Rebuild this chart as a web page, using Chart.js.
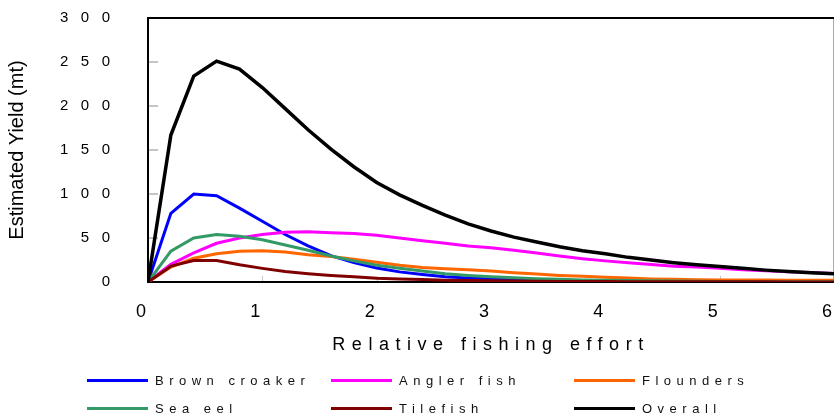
<!DOCTYPE html>
<html>
<head>
<meta charset="utf-8">
<script src="https://cdn.jsdelivr.net/npm/chart.js@4.4.1/dist/chart.umd.min.js"></script>
<style>
  html, body { margin: 0; padding: 0; background: #fff; }
  #wrap { position: relative; width: 835px; height: 417px; overflow: hidden; }
  #chart { position: absolute; left: 0; top: 0; }
  .item {
    position: absolute; height: 16px; display: flex; align-items: center; white-space: nowrap;
    font: 13px "Liberation Sans", Arial, sans-serif; letter-spacing: 5.5px; color: #111;
  }
  .item i { display: inline-block; width: 61px; height: 3px; margin-right: 7px; }
</style>
</head>
<body>
<div id="wrap">
  <canvas id="chart" width="835" height="417"></canvas>
  <div id="legend"></div>
</div>
<script>
// relative fishing effort (x)
const effort = [0, 0.2, 0.4, 0.6, 0.8, 1, 1.2, 1.4, 1.6, 1.8, 2, 2.2, 2.4, 2.6, 2.8, 3,
  3.2, 3.4, 3.6, 3.8, 4, 4.2, 4.4, 4.6, 4.8, 5, 5.2, 5.4, 5.6, 5.8, 6];

// estimated yield (mt) per species
const brownCroaker = [0, 78, 100, 98, 84, 69, 54, 41, 30, 22, 16, 11.5, 8.5, 6, 4.5, 3.3,
  2.5, 1.8, 1.3, 1, 0.8, 0.6, 0.5, 0.4, 0.3, 0.2, 0.2, 0.1, 0.1, 0.1, 0.1];
const anglerFish = [0, 20, 33, 44, 50, 54, 56.5, 57, 56, 55, 53, 50, 47, 44, 41, 39,
  36, 33, 29.5, 26.5, 24, 22, 20, 18, 17, 15.5, 14, 12.8, 11.7, 10.7, 9.8];
const flounders = [0, 17, 27, 32, 35, 35.5, 34, 31, 29, 26, 22.5, 19, 16.5, 15, 14, 12.5,
  10.5, 9, 7.5, 6.5, 5.3, 4.5, 3.5, 3, 2.6, 2.4, 2.3, 2.2, 2.1, 2, 2];
const seaEel = [0, 35, 50, 54, 52, 48, 42, 36, 29.5, 24, 19, 15.5, 12.5, 9.5, 7.5, 6,
  4.8, 3.8, 3, 2.4, 2, 1.6, 1.3, 1, 0.8, 0.6, 0.5, 0.4, 0.3, 0.3, 0.2];
const tilefish = [0, 18, 24.5, 24.5, 19.5, 15.5, 12, 9.5, 7.5, 6, 4.2, 3.4, 2.7, 2.1, 1.7, 1.4,
  1.1, 0.9, 0.7, 0.6, 0.5, 0.4, 0.4, 0.3, 0.3, 0.2, 0.2, 0.2, 0.1, 0.1, 0.1];
const overall = [0, 167, 234, 251, 242, 221, 197, 173, 151, 131, 113, 99, 87, 76, 66, 58,
  51, 45.5, 40, 35.5, 32, 28, 25, 22, 19.5, 17.5, 15.5, 13.5, 12, 10.5, 9.5];

const names = ['Brown croaker', 'Angler fish', 'Flounders', 'Sea eel', 'Tilefish', 'Overall'];
const values = [brownCroaker, anglerFish, flounders, seaEel, tilefish, overall];
const colors = ['#0000ff', '#ff00ff', '#ff6600', '#339966', '#800000', '#000000'];

Chart.defaults.font.family = '"Liberation Sans", Arial, sans-serif';
Chart.defaults.color = '#000';

// plot frame + short inward tick marks, under the lines
const frame = {
  id: 'frame',
  beforeDatasetsDraw(chart) {
    const { ctx, chartArea: a, scales: { x, y } } = chart;
    ctx.save();
    ctx.strokeStyle = '#c4c4c4';
    ctx.lineWidth = 2;
    ctx.beginPath();
    y.ticks.forEach(t => {
      if (t.value <= 0 || t.value >= 300) return;
      const py = y.getPixelForValue(t.value);
      ctx.moveTo(a.left, py);
      ctx.lineTo(a.left + 10, py);
    });
    ctx.stroke();
    ctx.lineWidth = 1;
    ctx.beginPath();
    x.ticks.forEach(t => {
      if (t.value <= 0 || t.value >= 6) return;
      const px = Math.round(x.getPixelForValue(t.value)) + 0.5;
      ctx.moveTo(px, a.bottom);
      ctx.lineTo(px, a.bottom - 6);
    });
    ctx.stroke();
    ctx.strokeStyle = '#aaa';
    ctx.beginPath();
    ctx.moveTo(a.right - 0.5, a.top);
    ctx.lineTo(a.right - 0.5, a.bottom);
    ctx.stroke();
    ctx.strokeStyle = '#000';
    ctx.lineWidth = 2;
    ctx.beginPath();
    ctx.moveTo(a.right, a.top);
    ctx.lineTo(a.left, a.top);
    ctx.lineTo(a.left, a.bottom);
    ctx.lineTo(a.right, a.bottom);
    ctx.stroke();
    ctx.restore();
  }
};

// wide letter spacing only for the x axis title (drawn after the datasets)
const spacing = {
  id: 'spacing',
  beforeDraw(chart) { chart.ctx.letterSpacing = '0px'; },
  afterDatasetsDraw(chart) { chart.ctx.letterSpacing = '6.5px'; },
  afterDraw(chart) { chart.ctx.letterSpacing = '0px'; }
};

const chart = new Chart(document.getElementById('chart'), {
  type: 'line',
  data: {
    datasets: names.map((name, i) => ({
      label: name,
      data: effort.map((x, j) => ({ x, y: values[i][j] })),
      borderColor: colors[i],
      backgroundColor: colors[i],
      borderWidth: i === 5 ? 3.5 : 3,
      pointRadius: 0,
      tension: 0,
      fill: false,
      order: names.length - 1 - i
    }))
  },
  options: {
    responsive: false,
    animation: false,
    events: [],
    layout: { padding: { top: 18, right: 1, bottom: 59, left: 0 } },
    plugins: { legend: { display: false }, tooltip: { enabled: false } },
    scales: {
      x: {
        type: 'linear', min: 0, max: 6,
        grid: { display: false, drawTicks: false, z: 1 },
        border: { display: false },
        ticks: { stepSize: 1, labelOffset: -7, padding: 19, maxRotation: 0, font: { size: 18 } },
        title: { display: true, text: 'Relative fishing effort', font: { size: 18 }, padding: { top: 0, bottom: 2 } },
        afterFit(s) { s.height = 76; s.paddingLeft = 0; s.paddingRight = 0; }
      },
      y: {
        min: 0, max: 300,
        grid: { display: false, drawTicks: false },
        border: { display: false },
        ticks: { stepSize: 50, padding: 38, font: { size: 15 }, callback: v => String(v).split('').join('   ') },
        title: { display: true, text: 'Estimated Yield (mt)', font: { size: 20 }, padding: { top: 5, bottom: 0 } },
        afterFit(s) { s.width = 148; s.paddingTop = 0; s.paddingBottom = 0; }
      }
    }
  },
  plugins: [frame, spacing]
});

// legend in three columns, built from the chart's datasets
const cols = [87, 331, 574];
const rows = [380, 408];
document.getElementById('legend').innerHTML = chart.data.datasets.map((d, i) => `
  <div class="item" style="left:${cols[i % 3]}px;top:${rows[Math.floor(i / 3)] - 8}px">
    <i style="background:${d.borderColor}"></i>${d.label}
  </div>`).join('');
</script>
</body>
</html>
